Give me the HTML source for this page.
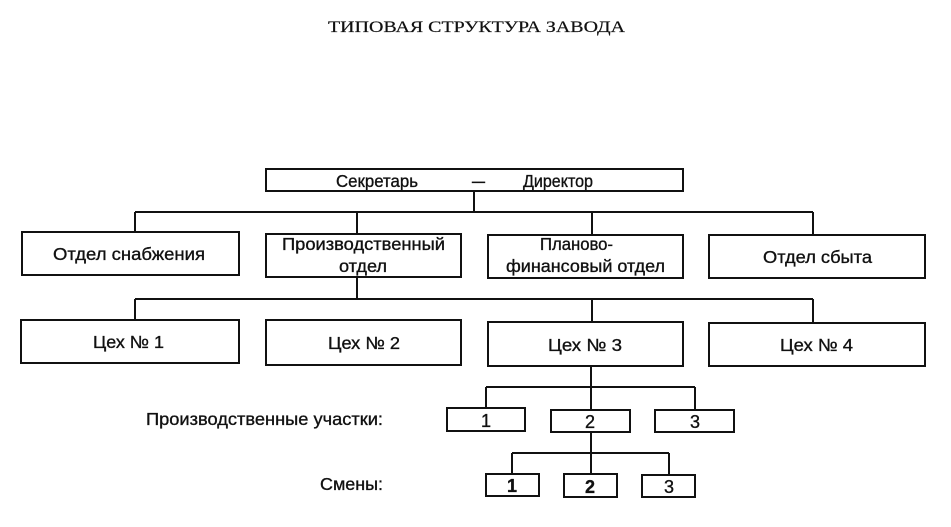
<!DOCTYPE html>
<html>
<head>
<meta charset="utf-8">
<style>
html,body{margin:0;padding:0;background:#fff;}
svg{display:block;}
text{font-family:"Liberation Sans",Arial,sans-serif;fill:#111;stroke:#111;stroke-width:0.35;}
.t{font-family:"Liberation Serif","Times New Roman",serif;stroke-width:0.2;}
</style>
</head>
<body>
<svg width="951" height="527" viewBox="0 0 951 527" xmlns="http://www.w3.org/2000/svg">
<rect x="0" y="0" width="951" height="527" fill="#fff" stroke="none"/>

<!-- Title -->
<text class="t" x="328" y="32" font-size="16" textLength="297" lengthAdjust="spacingAndGlyphs">ТИПОВАЯ СТРУКТУРА ЗАВОДА</text>

<g fill="none" stroke="#111" stroke-width="2">
  <!-- Director box -->
  <rect x="266" y="169" width="417" height="22"/>
  <!-- connectors level 1 -->
  <line x1="474" y1="191" x2="474" y2="212"/>
  <line x1="135" y1="212" x2="813" y2="212"/>
  <line x1="135" y1="212" x2="135" y2="232"/>
  <line x1="357" y1="212" x2="357" y2="234"/>
  <line x1="592" y1="212" x2="592" y2="235"/>
  <line x1="813" y1="212" x2="813" y2="235"/>
  <!-- level 2 boxes -->
  <rect x="22" y="232" width="217" height="43"/>
  <rect x="266" y="234" width="195" height="43"/>
  <rect x="488" y="235" width="195" height="43"/>
  <rect x="709" y="235" width="216" height="43"/>
  <!-- connectors level 2 -->
  <line x1="357" y1="277" x2="357" y2="299"/>
  <line x1="135" y1="299" x2="813" y2="299"/>
  <line x1="135" y1="299" x2="135" y2="320"/>
  <line x1="592" y1="299" x2="592" y2="322"/>
  <line x1="813" y1="299" x2="813" y2="323"/>
  <!-- workshops -->
  <rect x="21" y="320" width="218" height="43"/>
  <rect x="266" y="320" width="195" height="45"/>
  <rect x="488" y="322" width="195" height="44"/>
  <rect x="709" y="323" width="216" height="43"/>
  <!-- sections -->
  <line x1="591" y1="366" x2="591" y2="387"/>
  <line x1="486" y1="387" x2="695" y2="387"/>
  <line x1="486" y1="387" x2="486" y2="408"/>
  <line x1="591" y1="387" x2="591" y2="410"/>
  <line x1="695" y1="387" x2="695" y2="410"/>
  <rect x="447" y="408" width="78" height="23"/>
  <rect x="551" y="410" width="79" height="22"/>
  <rect x="655" y="410" width="79" height="22"/>
  <!-- shifts -->
  <line x1="591" y1="432" x2="591" y2="453"/>
  <line x1="512" y1="453" x2="669" y2="453"/>
  <line x1="512" y1="453" x2="512" y2="474"/>
  <line x1="591" y1="453" x2="591" y2="474"/>
  <line x1="669" y1="453" x2="669" y2="475"/>
  <rect x="486" y="474" width="53" height="22"/>
  <rect x="564" y="474" width="53" height="23"/>
  <rect x="642" y="475" width="53" height="22"/>
</g>

<!-- Director texts -->
<text x="336" y="187" font-size="17.5" textLength="82" lengthAdjust="spacingAndGlyphs">Секретарь</text>
<text x="472" y="187" font-size="17.5" textLength="13" lengthAdjust="spacingAndGlyphs">–</text>
<text x="523" y="187" font-size="17.5" textLength="70" lengthAdjust="spacingAndGlyphs">Директор</text>

<!-- Level 2 texts -->
<text x="53" y="260" font-size="17.5" textLength="152" lengthAdjust="spacingAndGlyphs">Отдел снабжения</text>
<text x="282" y="250" font-size="17.5" textLength="163" lengthAdjust="spacingAndGlyphs">Производственный</text>
<text x="339" y="272" font-size="17.5" textLength="48" lengthAdjust="spacingAndGlyphs">отдел</text>
<text x="540" y="250" font-size="17.5" textLength="73" lengthAdjust="spacingAndGlyphs">Планово-</text>
<text x="506" y="272" font-size="17.5" textLength="159" lengthAdjust="spacingAndGlyphs">финансовый отдел</text>
<text x="763" y="263" font-size="17.5" textLength="109" lengthAdjust="spacingAndGlyphs">Отдел сбыта</text>

<!-- Workshop texts -->
<text x="93" y="348" font-size="17.5" textLength="71" lengthAdjust="spacingAndGlyphs">Цех № 1</text>
<text x="328" y="349" font-size="17.5" textLength="72" lengthAdjust="spacingAndGlyphs">Цех № 2</text>
<text x="548" y="351" font-size="17.5" textLength="74" lengthAdjust="spacingAndGlyphs">Цех № 3</text>
<text x="780" y="351" font-size="17.5" textLength="73" lengthAdjust="spacingAndGlyphs">Цех № 4</text>

<!-- Labels -->
<text x="146" y="425" font-size="17.5" textLength="237" lengthAdjust="spacingAndGlyphs">Производственные участки:</text>
<text x="320" y="490" font-size="17.5" textLength="63" lengthAdjust="spacingAndGlyphs">Смены:</text>

<!-- Section digits -->
<text x="486" y="427" font-size="18" text-anchor="middle">1</text>
<text x="590" y="428" font-size="18" text-anchor="middle">2</text>
<text x="695" y="428" font-size="18" text-anchor="middle">3</text>

<!-- Shift digits -->
<text x="512" y="492" font-size="18" font-weight="bold" text-anchor="middle">1</text>
<text x="590" y="493" font-size="18" font-weight="bold" text-anchor="middle">2</text>
<text x="669" y="493" font-size="18" text-anchor="middle">3</text>
</svg>
</body>
</html>
